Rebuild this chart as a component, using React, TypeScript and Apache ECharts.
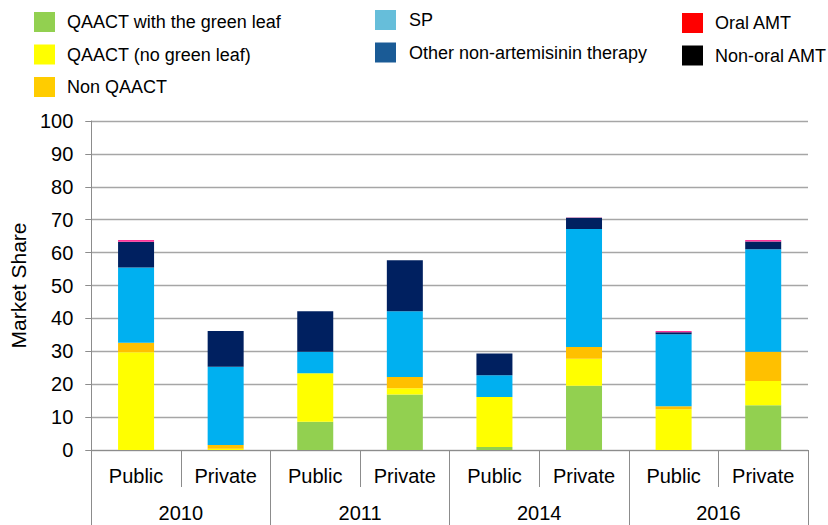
import React, { useEffect, useRef } from "react";
import * as echarts from "echarts";

const categories = ["Public", "Private", "Public", "Private", "Public", "Private", "Public", "Private"];
const years = ["2010", "2011", "2014", "2016"];
const yTicks = [0, 100, 10];

const greenLeaf = [0, 0, 8.6, 16.9, 0.9, 19.5, 0, 13.6];
const noGreenLeaf = [29.7, 0.4, 14.7, 1.9, 15.2, 8.2, 12.4, 7.4];
const nonQaact = [2.9, 1.1, 0, 3.4, 0, 3.6, 0.9, 8.9];
const sp = [22.9, 23.8, 6.6, 20.0, 6.6, 35.9, 21.9, 31.1];
const otherNonArt = [7.8, 10.9, 12.3, 15.5, 6.6, 3.4, 0.6, 2.4];
const oralAmt = [0.5, 0, 0, 0, 0, 0.1, 0.4, 0.4];
const nonOralAmt = [0, 0, 0, 0, 0, 0, 0, 0];

const seriesNames = [
  "QAACT with the green leaf",
  "QAACT (no green leaf)",
  "Non QAACT",
  "SP",
  "Other non-artemisinin therapy",
  "Oral AMT",
  "Non-oral AMT",
];
const seriesData = [greenLeaf, noGreenLeaf, nonQaact, sp, otherNonArt, oralAmt, nonOralAmt];
const barColors = ["#92D050", "#FFFF00", "#FFC000", "#00B0F0", "#002060", "#FF3399", "#000000"];
const legendColors = ["#92D050", "#FFFF00", "#FFCC00", "#66BEDA", "#1A5B96", "#FF0000", "#000000"];

const FONT = "'Liberation Sans', Arial, sans-serif";

export default function App() {
  const ref = useRef<HTMLDivElement>(null);
  useEffect(() => {
    if (!ref.current) return;
    const chart = echarts.init(ref.current, undefined, { renderer: "svg" });
    const legendItem = (i: number) => ({
      name: seriesNames[i],
      itemStyle: { color: legendColors[i] },
    });
    const legendBase = {
      orient: "vertical" as const,
      icon: "rect",
      itemWidth: 21,
      itemHeight: 20,
      itemGap: 12.5,
      selectedMode: false,
      textStyle: { fontSize: 18, color: "#000", fontFamily: FONT, padding: [0, 0, 0, 7] },
    };
    chart.setOption({
      animation: false,
      textStyle: { fontFamily: FONT },
      legend: [
        { ...legendBase, left: 29, top: 7, data: [0, 1, 2].map(legendItem) },
        { ...legendBase, left: 370, top: 5, textStyle: { ...legendBase.textStyle, padding: [0, 0, 0, 8] }, data: [3, 4].map(legendItem) },
        { ...legendBase, left: 677, top: 8, data: [5, 6].map(legendItem) },
      ],
      grid: { left: 88, right: 20, top: 121, bottom: 75, containLabel: false },
      xAxis: [
        {
          type: "category",
          data: categories,
          position: "bottom",
          axisLine: { show: true, lineStyle: { color: "#8c8c8c", width: 1 } },
          axisTick: { show: true, interval: 0, length: 37, lineStyle: { color: "#8c8c8c" } },
          axisLabel: { interval: 0, margin: 16, fontSize: 20, color: "#000", fontFamily: FONT },
        },
        {
          type: "category",
          data: years,
          position: "bottom",
          axisLine: { show: false },
          axisTick: { show: true, interval: 0, length: 80, lineStyle: { color: "#8c8c8c" } },
          axisLabel: { interval: 0, margin: 53, fontSize: 20, color: "#000", fontFamily: FONT },
        },
      ],
      yAxis: {
        type: "value",
        min: yTicks[0],
        max: yTicks[1],
        interval: yTicks[2],
        name: "Market Share",
        nameLocation: "middle",
        nameRotate: 90,
        nameGap: 52,
        nameTextStyle: { fontSize: 21, color: "#000", fontFamily: FONT },
        axisLine: { show: true, lineStyle: { color: "#8c8c8c", width: 1 } },
        axisTick: { show: true, length: 6, lineStyle: { color: "#8c8c8c" } },
        axisLabel: { margin: 18, fontSize: 20, color: "#000", fontFamily: FONT },
        splitLine: { show: true, lineStyle: { color: "#a6a6a6", width: 1.3 } },
      },
      series: seriesNames.map((name, i) => ({
        name,
        type: "bar",
        stack: "total",
        xAxisIndex: 0,
        barWidth: 36,
        data: seriesData[i],
        itemStyle: { color: barColors[i] },
      })),
    });
    return () => chart.dispose();
  }, []);
  return (
    <div
      ref={ref}
      style={{ position: "fixed", left: 0, top: 0, width: 828, height: 525, background: "#fff" }}
    />
  );
}
